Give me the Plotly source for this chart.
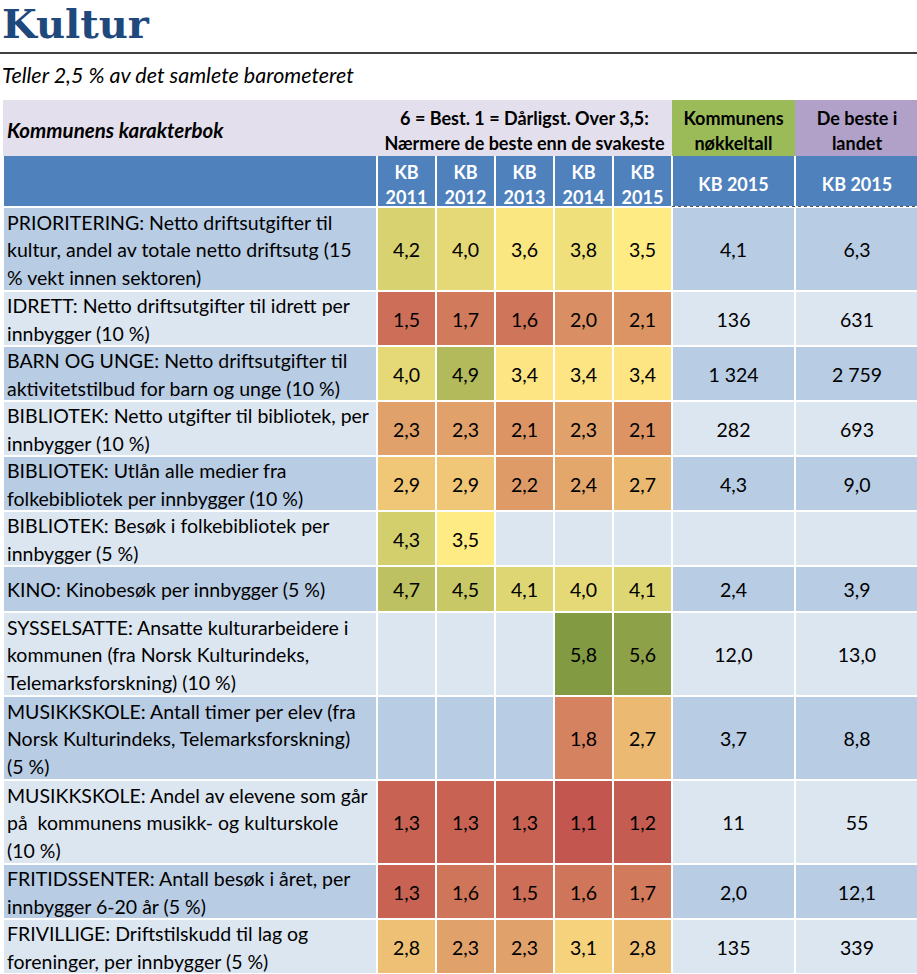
import plotly.graph_objects as go

# ---------------- data ----------------
title = "Kultur"
subtitle = "Teller 2,5 % av det samlete barometeret"
header_left = "Kommunens karakterbok"
header_scale = ["6 = Best. 1 = Dårligst. Over 3,5:", "Nærmere de beste enn de svakeste"]
header_key = ["Kommunens", "nøkkeltall"]
header_best = ["De beste i", "landet"]
years = ["2011", "2012", "2013", "2014", "2015"]
key_col_header = "KB 2015"
best_col_header = "KB 2015"

labels = [
    ["PRIORITERING: Netto driftsutgifter til", "kultur, andel av totale netto driftsutg (15", "% vekt innen sektoren)"],
    ["IDRETT: Netto driftsutgifter til idrett per", "innbygger (10 %)"],
    ["BARN OG UNGE: Netto driftsutgifter til", "aktivitetstilbud for barn og unge (10 %)"],
    ["BIBLIOTEK: Netto utgifter til bibliotek, per", "innbygger (10 %)"],
    ["BIBLIOTEK: Utlån alle medier fra", "folkebibliotek per innbygger (10 %)"],
    ["BIBLIOTEK: Besøk i folkebibliotek per", "innbygger (5 %)"],
    ["KINO: Kinobesøk per innbygger (5 %)"],
    ["SYSSELSATTE: Ansatte kulturarbeidere i", "kommunen (fra Norsk Kulturindeks,", "Telemarksforskning) (10 %)"],
    ["MUSIKKSKOLE: Antall timer per elev (fra", "Norsk Kulturindeks, Telemarksforskning)", "(5 %)"],
    ["MUSIKKSKOLE: Andel av elevene som går", "på  kommunens musikk- og kulturskole", "(10 %)"],
    ["FRITIDSSENTER: Antall besøk i året, per", "innbygger 6-20 år (5 %)"],
    ["FRIVILLIGE: Driftstilskudd til lag og", "foreninger, per innbygger (5 %)"],
]

kb2011 = [4.2, 1.5, 4.0, 2.3, 2.9, 4.3, 4.7, None, None, 1.3, 1.3, 2.8]
kb2012 = [4.0, 1.7, 4.9, 2.3, 2.9, 3.5, 4.5, None, None, 1.3, 1.6, 2.3]
kb2013 = [3.6, 1.6, 3.4, 2.1, 2.2, None, 4.1, None, None, 1.3, 1.5, 2.3]
kb2014 = [3.8, 2.0, 3.4, 2.3, 2.4, None, 4.0, 5.8, 1.8, 1.1, 1.6, 3.1]
kb2015 = [3.5, 2.1, 3.4, 2.1, 2.7, None, 4.1, 5.6, 2.7, 1.2, 1.7, 2.8]

kommune_2015 = ["4,1", "136", "1 324", "282", "4,3", "", "2,4", "12,0", "3,7", "11", "2,0", "135"]
beste_2015 = ["6,3", "631", "2 759", "693", "9,0", "", "3,9", "13,0", "8,8", "55", "12,1", "339"]

# ---------------- layout geometry ----------------
W, H = 917, 974
FONT = "Lato"
col_edges = [3, 377, 436, 495, 554, 613, 672, 795, 919]
head1 = [100, 156]
head2 = [156, 206]
data_top = 207
row_h = {1: 46, 2: 55, 3: 84}
line_gap = 27.5
TY = 3.5  # vertical nudge so text glyphs sit visually centred

y_edges = [data_top]
for lab in labels:
    y_edges.append(y_edges[-1] + row_h[len(lab)])
row_centers = [(y_edges[i] + y_edges[i + 1]) / 2 for i in range(len(labels))]
col_centers = [(col_edges[i] + col_edges[i + 1]) / 2 for i in range(len(col_edges) - 1)]

score_cols = [kb2011, kb2012, kb2013, kb2014, kb2015]
z_scores = [[col[i] for col in score_cols] for i in range(len(labels))]

fig = go.Figure()

# header row 1 (merged cells)
fig.add_trace(go.Heatmap(
    x=[col_edges[0], col_edges[6], col_edges[7], col_edges[8]], y=head1, z=[[0, 1, 2]],
    colorscale=[[0, "#e4dfec"], [0.5, "#9bbb59"], [1, "#b1a0c7"]], zmin=0, zmax=2,
    showscale=False, hoverinfo="skip"))
# header row 2
fig.add_trace(go.Heatmap(
    x=col_edges, y=head2, z=[[0] * 8],
    colorscale=[[0, "#4f81bd"], [1, "#4f81bd"]], zmin=0, zmax=1,
    xgap=2, ygap=0, showscale=False, hoverinfo="skip"))
# row bands
fig.add_trace(go.Heatmap(
    x=col_edges, y=y_edges, z=[[i % 2] * 8 for i in range(len(labels))],
    colorscale=[[0, "#b8cce4"], [1, "#dce6f1"]], zmin=0, zmax=1,
    xgap=2, ygap=2, showscale=False, hoverinfo="skip"))
# score cells (red-yellow-green scale)
fig.add_trace(go.Heatmap(
    x=col_edges[1:7], y=y_edges, z=z_scores,
    colorscale=[[0, "#c0504d"], [0.5, "#ffeb84"], [1, "#77933c"]], zmin=1, zmax=6,
    xgap=2, ygap=2, showscale=False, hoverinfo="skip"))

# dotted border under numeric headers
fig.add_trace(go.Scatter(
    x=[col_edges[6], W], y=[head2[1] + 0.5, head2[1] + 0.5], mode="lines",
    line=dict(color="#555555", width=1.2, dash="dot"), hoverinfo="skip"))

def text_trace(xs, ys, texts, pos="middle center", size=19.5, color="#000000"):
    fig.add_trace(go.Scatter(
        x=xs, y=[y + TY for y in ys], text=texts, mode="text", textposition=pos,
        textfont=dict(family=FONT, size=size, color=color),
        hoverinfo="skip", cliponaxis=False))

# row labels
lx, ly, lt = [], [], []
for i, lab in enumerate(labels):
    n = len(lab)
    for j, line in enumerate(lab):
        lx.append(col_edges[0] + 4)
        ly.append(row_centers[i] + (j - (n - 1) / 2) * line_gap)
        lt.append(line)
text_trace(lx, ly, lt, pos="middle right")

# score values
sx, sy, st = [], [], []
for i in range(len(labels)):
    for c, col in enumerate(score_cols):
        v = col[i]
        if v is not None:
            sx.append(col_centers[1 + c])
            sy.append(row_centers[i])
            st.append(f"{v:.1f}".replace(".", ","))
text_trace(sx, sy, st)

# key numbers
text_trace([col_centers[6]] * len(labels), row_centers, kommune_2015)
text_trace([col_centers[7]] * len(labels), row_centers, beste_2015)

# header texts
text_trace([col_edges[0] + 4], [129.5], [f"<b><i>{header_left}</i></b>"], pos="middle right", size=20.5)
mid_scores = (col_edges[1] + col_edges[6]) / 2
text_trace([mid_scores] * 2, [116.5, 142], [f"<b>{t}</b>" for t in header_scale], size=18)
text_trace([col_centers[6]] * 2, [116.5, 142], [f"<b>{t}</b>" for t in header_key], size=18)
text_trace([col_centers[7]] * 2, [116.5, 142], [f"<b>{t}</b>" for t in header_best], size=18)

hx, hy, ht = [], [], []
for c, yr in enumerate(years):
    hx += [col_centers[1 + c]] * 2
    hy += [170.5, 195.5]
    ht += ["<b>KB</b>", f"<b>{yr}</b>"]
hx += [col_centers[6], col_centers[7]]
hy += [183, 183]
ht += [f"<b>{key_col_header}</b>", f"<b>{best_col_header}</b>"]
text_trace(hx, hy, ht, size=18, color="#ffffff")

# title & subtitle
fig.add_annotation(x=0, y=23, xref="x", yref="y", text=f"<b>{title}</b>", showarrow=False,
                   xanchor="left", yanchor="middle",
                   font=dict(family="DejaVu Serif", size=40, color="#1f497d"))
fig.add_annotation(x=0, y=75, xref="x", yref="y", text=f"<i>{subtitle}</i>", showarrow=False,
                   xanchor="left", yanchor="middle",
                   font=dict(family=FONT, size=21.5, color="#000000"))
fig.add_shape(type="line", xref="x", yref="y", x0=0, x1=W, y0=53, y1=53,
              line=dict(color="#000000", width=1.5))

fig.update_layout(
    width=W, height=H, margin=dict(l=0, r=0, t=0, b=0),
    paper_bgcolor="#ffffff", plot_bgcolor="#ffffff", showlegend=False,
    xaxis=dict(range=[0, W], visible=False, fixedrange=True),
    yaxis=dict(range=[H, 0], visible=False, fixedrange=True),
)

fig.write_html(
    "out.html",
    config={"displayModeBar": False, "staticPlot": True},
    post_script="document.body.style.margin='0';document.body.style.overflow='hidden';",
)
